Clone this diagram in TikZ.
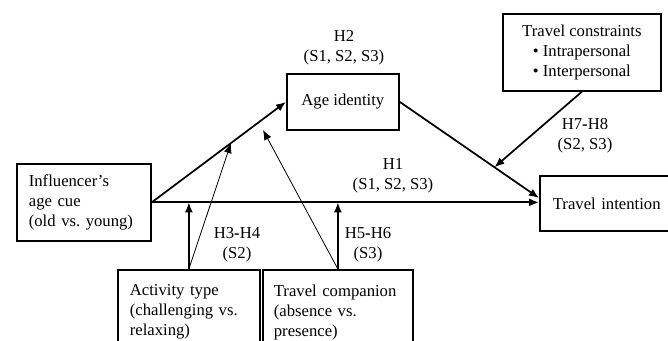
\documentclass[tikz,border=0pt]{standalone}
\usepackage{fontspec}
\setmainfont{Liberation Serif}
\usetikzlibrary{arrows.meta,positioning,calc}

\begin{document}
\begin{tikzpicture}[x=0.75pt,y=-0.75pt,>={Latex[length=7.5pt,width=6pt]},
  font=\fontsize{12.5}{15}\selectfont,
  box/.style={draw,line width=1.3pt,anchor=north west,inner sep=0pt},
  hyp/.style={align=center,inner sep=0pt},
  thickarr/.style={->,line width=1.3pt},
  thinarr/.style={->,line width=0.6pt}]
  \useasboundingbox (0,0) rectangle (668,341);
  \node[box,align=left,inner xsep=9pt,text width=82.5pt,minimum height=57.75pt] (cue) at (16,163) {Influencer’s\\age cue\\(old vs.\ young)};
  \node[box,minimum width=84pt,minimum height=42pt] (age) at (286,73) {Age identity};
  \node[box,align=center,minimum width=118.5pt,minimum height=57.75pt] (cons) at (502,13) {Travel constraints\\\textbullet\ Intrapersonal\\\textbullet\ Interpersonal};
  \node[box,align=left,inner xsep=9.75pt,text width=90pt,minimum height=41.25pt] (int) at (539,175) {Travel intention};
  \node[box,align=left,inner xsep=9pt,inner ysep=11pt,text width=88.5pt] (act) at (117,269) {Activity type\\(challenging vs.\\relaxing)};
  \node[box,align=left,inner xsep=8.25pt,inner ysep=11pt,text width=96pt] (comp) at (262,269) {Travel companion\\(absence vs.\\presence)};
  \node[hyp] (h2) at (344,48) {H2\\(S1, S2, S3)};
  \node[hyp] (h1) at (393,176) {H1\\(S1, S2, S3)};
  \node[hyp] (h34) at (237,245) {H3\textbf{-}H4\\(S2)};
  \node[hyp] (h56) at (368,245) {H5\textbf{-}H6\\(S3)};
  \node[hyp] (h78) at (585,136) {H7\textbf{-}H8\\(S2, S3)};
  \coordinate (intin) at (539,198);
  \coordinate (modA) at ($(cue.east)!0.59!(age.west)$);
  \coordinate (modC) at (263,130);
  \coordinate (modT) at ($(age.east)!0.68!(intin)$);
  \draw[thickarr] (cue.east) -- (cue.east -| int.west);
  \draw[thickarr] (cue.east) -- (age.west);
  \draw[thickarr] (age.east) -- (intin);
  \draw[thickarr] (cons.south) -- (modT);
  \draw[thickarr] (act.north) -- (act.north |- cue.east);
  \draw[thickarr] (comp.north) -- (comp.north |- cue.east);
  \draw[thinarr] (act.north) -- (modA);
  \draw[thinarr] (comp.north) -- (modC);
\end{tikzpicture}
\end{document}
